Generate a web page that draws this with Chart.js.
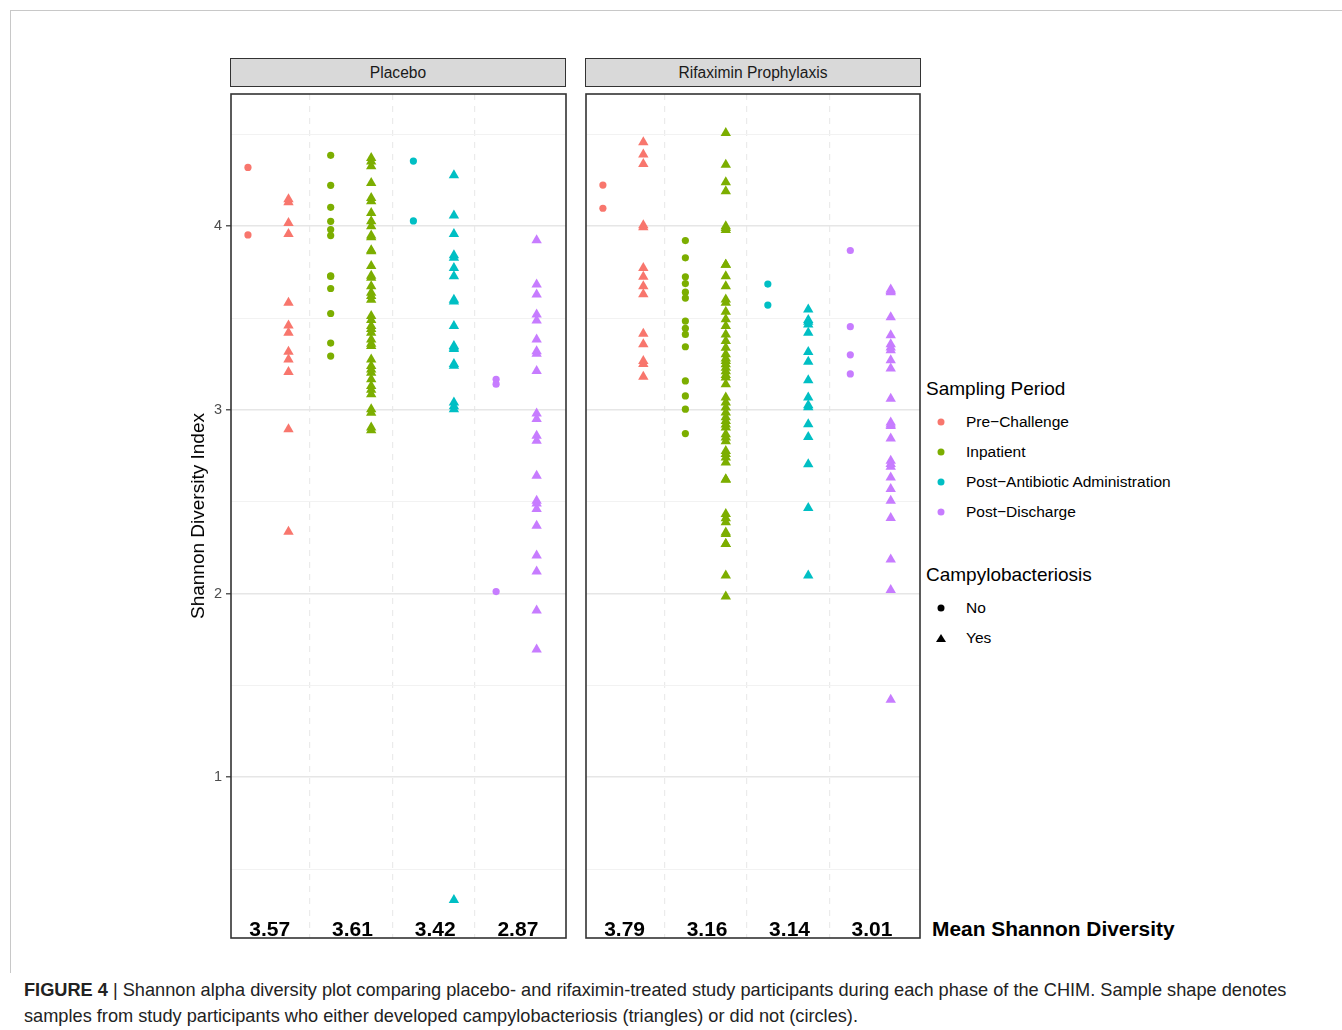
<!DOCTYPE html>
<html>
<head>
<meta charset="utf-8">
<script src="https://cdn.jsdelivr.net/npm/chart.js@4.4.0/dist/chart.umd.min.js"></script>
<style>
  body { margin: 0; width: 1342px; height: 1030px; background: #fff; position: relative; overflow: hidden;
         font-family: "Liberation Sans", Arial, Helvetica, sans-serif; }
  canvas { position: absolute; }
  #frame { position: absolute; left: 10px; top: 10px; width: 1332px; height: 962px;
           border-top: 1px solid #c8c8c8; border-left: 1px solid #c8c8c8; }
  .strip { position: absolute; top: 58px; width: 334px; height: 27px; background: #d9d9d9;
           border: 1.5px solid #333; text-align: center; line-height: 27px; font-size: 15.6px; color: #1a1a1a; }
  #ytitle { position: absolute; left: 198px; top: 516px; transform: translate(-50%, -50%) rotate(-90deg);
            font-size: 19px; white-space: nowrap; color: #000; }
  .lg-title { position: absolute; left: 926px; font-size: 19px; color: #000; transform: translateY(-50%); }
  .lg-item { position: absolute; left: 966px; font-size: 15.5px; color: #000; transform: translateY(-50%); white-space: nowrap; }
  .lg-dot { position: absolute; width: 7px; height: 7px; border-radius: 50%; transform: translate(-50%, -50%); }
  .lg-tri { position: absolute; width: 0; height: 0; border-left: 5px solid transparent; border-right: 5px solid transparent;
            border-bottom: 8px solid #000; transform: translate(-50%, -50%); }
  #meanTitle { position: absolute; left: 932px; top: 929px; transform: translateY(-50%); font-weight: bold; font-size: 20.9px; color: #000; }
  #caption { position: absolute; left: 24px; top: 977px; font-size: 18.2px; line-height: 26px; color: #222; white-space: nowrap; }
</style>
</head>
<body>
<div id="frame"></div>
<div class="strip" style="left:230px">Placebo</div>
<div class="strip" style="left:585px">Rifaximin Prophylaxis</div>
<canvas id="placebo" width="402" height="860" style="left:170px;top:88px"></canvas>
<canvas id="rifaximin" width="346" height="860" style="left:580px;top:88px"></canvas>
<div id="ytitle">Shannon Diversity Index</div>
<div id="legend"></div>
<div id="meanTitle">Mean Shannon Diversity</div>
<div id="caption"><b>FIGURE 4</b> | Shannon alpha diversity plot comparing placebo- and rifaximin-treated study participants during each phase of the CHIM. Sample shape denotes<br>samples from study participants who either developed campylobacteriosis (triangles) or did not (circles).</div>

<script>
// sampling periods, in plot order
const groups = ["Pre\u2212Challenge", "Inpatient", "Post\u2212Antibiotic Administration", "Post\u2212Discharge"];
const colors = ["#F8766D", "#7CAE00", "#00BFC4", "#C77CFF"];

// Shannon index per sample, one sub-array per sampling period
// No = did not develop campylobacteriosis (circles), Yes = did (triangles)
const placeboNo = [
  [4.32, 3.953],
  [4.386, 4.223, 4.103, 4.027, 3.982, 3.949, 3.73, 3.727, 3.661, 3.525, 3.364, 3.293],
  [4.355, 4.029],
  [3.167, 3.14, 2.011]
];
const placeboYes = [
  [4.147, 4.13, 4.018, 3.958, 3.583, 3.46, 3.42, 3.317, 3.275, 3.207, 2.895, 2.337],
  [4.371, 4.353, 4.326, 4.235, 4.154, 4.136, 4.072, 4.027, 4.0, 3.949, 3.94, 3.864, 3.87, 3.783, 3.719, 3.73,
   3.674, 3.638, 3.6, 3.62, 3.511, 3.49, 3.457, 3.44, 3.42, 3.384, 3.348, 3.36, 3.275, 3.239, 3.22, 3.203,
   3.167, 3.13, 3.11, 3.085, 3.004, 2.985, 2.904, 2.89],
  [4.277, 4.058, 3.958, 3.842, 3.828, 3.773, 3.728, 3.6, 3.59, 3.457, 3.348, 3.34, 3.332, 3.25, 3.24,
   3.04, 3.02, 3.004, 0.332],
  [3.924, 3.683, 3.629, 3.52, 3.487, 3.384, 3.32, 3.306, 3.212, 2.98, 2.95, 2.859, 2.832, 2.641, 2.505,
   2.49, 2.46, 2.37, 2.207, 2.121, 1.908, 1.696]
];
const rifaximinNo = [
  [4.224, 4.098],
  [3.922, 3.828, 3.725, 3.688, 3.641, 3.609, 3.484, 3.444, 3.411, 3.344, 3.158, 3.076, 3.004, 2.871],
  [3.685, 3.571],
  [3.868, 3.453, 3.3, 3.196]
];
const rifaximinYes = [
  [4.457, 4.39, 4.339, 4.005, 3.995, 3.773, 3.725, 3.674, 3.63, 3.415, 3.357, 3.266, 3.25, 3.181],
  [4.507, 4.335, 4.239, 4.19, 4.0, 3.99, 3.98, 3.79, 3.79, 3.728, 3.674, 3.601, 3.583, 3.534, 3.493, 3.457,
   3.411, 3.375, 3.339, 3.303, 3.28, 3.266, 3.248, 3.23, 3.21, 3.19, 3.176, 3.14, 3.067, 3.04, 3.013, 2.986,
   2.96, 2.94, 2.92, 2.904, 2.868, 2.85, 2.83, 2.777, 2.76, 2.741, 2.714, 2.623, 2.62, 2.433, 2.41, 2.388,
   2.333, 2.325, 2.27, 2.27, 2.098, 1.984],
  [3.547, 3.49, 3.48, 3.465, 3.42, 3.315, 3.262, 3.161, 3.067, 3.025, 3.015, 2.922, 2.853, 2.704, 2.466, 2.098],
  [3.656, 3.647, 3.64, 3.505, 3.406, 3.357, 3.34, 3.325, 3.27, 3.226, 3.061, 2.931, 2.92, 2.913, 2.844, 2.723,
   2.705, 2.69, 2.632, 2.569, 2.505, 2.411, 2.185, 2.02, 1.422]
];

const meansPlacebo = ["3.57", "3.61", "3.42", "2.87"];
const meansRifaximin = ["3.79", "3.16", "3.14", "3.01"];

const yGrid = [0.5, 1, 1.5, 2, 2.5, 3, 3.5, 4, 4.5];
const yLabels = [1, 2, 3, 4];
const xDividers = [1.5, 2.5, 3.5];
const dodge = 0.245;
const fontFamily = '"Liberation Sans", Arial, Helvetica, sans-serif';

const panelExtras = (means, showAxis) => ({
  id: "panelExtras",
  afterDatasetsDraw(chart) {
    const { ctx, chartArea: a, scales: { x, y } } = chart;
    ctx.save();
    ctx.font = "bold 21px " + fontFamily;
    ctx.fillStyle = "#000";
    ctx.textAlign = "center";
    ctx.textBaseline = "middle";
    means.forEach((m, i) => ctx.fillText(m, x.getPixelForValue(i + 1) + 1.5, a.bottom - 8));
    ctx.strokeStyle = "#333";
    ctx.lineWidth = 1.6;
    ctx.strokeRect(a.left, a.top, a.width, a.height);
    if (showAxis) {
      ctx.font = "14.5px " + fontFamily;
      ctx.fillStyle = "#4d4d4d";
      ctx.textAlign = "right";
      yLabels.forEach((v) => ctx.fillText(String(v), a.left - 9, y.getPixelForValue(v)));
    }
    ctx.restore();
  }
});

const isMajor = (v) => Number.isInteger(v);

const makePanel = (id, noVals, yesVals, means, showAxis) => {
  const datasets = [];
  groups.forEach((g, i) => {
    datasets.push({
      label: g + " No",
      data: noVals[i].map((v) => ({ x: i + 1 - dodge, y: v })),
      pointStyle: "circle",
      pointRadius: 3.6,
      backgroundColor: colors[i],
      borderWidth: 0
    });
    datasets.push({
      label: g + " Yes",
      data: yesVals[i].map((v) => ({ x: i + 1 + dodge, y: v })),
      pointStyle: "triangle",
      pointRadius: 6,
      backgroundColor: colors[i],
      borderWidth: 0
    });
  });

  return new Chart(document.getElementById(id), {
    type: "scatter",
    data: { datasets },
    options: {
      responsive: false,
      animation: false,
      events: [],
      layout: {
        padding: showAxis
          ? { top: 5, right: 3, bottom: 10, left: 0 }
          : { top: 5, right: 4, bottom: 10, left: 6 }
      },
      plugins: { legend: { display: false }, tooltip: { enabled: false } },
      scales: {
        x: {
          type: "linear",
          min: 0.55,
          max: 4.6,
          afterBuildTicks: (s) => { s.ticks = xDividers.map((v) => ({ value: v })); },
          afterFit: (s) => { s.height = 0; },
          ticks: { display: false },
          grid: { color: "#ebebeb", lineWidth: 1.2, drawTicks: false },
          border: { display: false, dash: [6, 6] }
        },
        y: {
          min: 0.125,
          max: 4.72,
          afterBuildTicks: (s) => { s.ticks = yGrid.map((v) => ({ value: v })); },
          afterFit: (s) => { s.width = showAxis ? 61 : 0; },
          ticks: { display: false },
          grid: {
            color: (c) => (isMajor(c.tick.value) ? "#e6e6e6" : "#f2f2f2"),
            lineWidth: (c) => (isMajor(c.tick.value) ? 1.6 : 1),
            drawTicks: showAxis,
            tickLength: 5,
            tickColor: (c) => (isMajor(c.tick.value) ? "#333" : "rgba(0,0,0,0)"),
            tickWidth: 1.2
          },
          border: { display: false }
        }
      }
    },
    plugins: [panelExtras(means, showAxis)]
  });
};

makePanel("placebo", placeboNo, placeboYes, meansPlacebo, true);
makePanel("rifaximin", rifaximinNo, rifaximinYes, meansRifaximin, false);

// legend
const legend = document.getElementById("legend");
const addEl = (cls, top, left, text, color) => {
  const el = document.createElement("div");
  el.className = cls;
  el.style.top = top + "px";
  if (left !== null) el.style.left = left + "px";
  if (text) el.textContent = text;
  if (color) el.style.background = color;
  legend.appendChild(el);
  return el;
};
addEl("lg-title", 389, null, "Sampling Period");
groups.forEach((g, i) => {
  const y = 422 + i * 30;
  addEl("lg-dot", y, 941, null, colors[i]);
  addEl("lg-item", y, null, g);
});
addEl("lg-title", 575, null, "Campylobacteriosis");
addEl("lg-dot", 608, 941, null, "#000");
addEl("lg-item", 608, null, "No");
addEl("lg-tri", 638, 941);
addEl("lg-item", 638, null, "Yes");
</script>
</body>
</html>
